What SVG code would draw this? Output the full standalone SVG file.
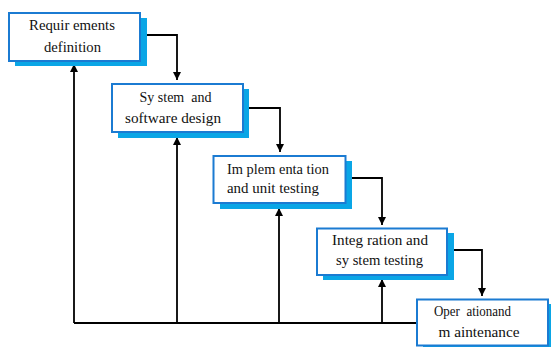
<svg xmlns="http://www.w3.org/2000/svg" width="551" height="347" viewBox="0 0 551 347">
  <defs>
    <marker id="arrow" viewBox="0 0 10 10" refX="10" refY="5" markerWidth="8" markerHeight="8" markerUnits="userSpaceOnUse" orient="auto">
      <path d="M0,0 L10,5 L0,10 z" fill="#000"/>
    </marker>
  </defs>
  <style>
    .shadow { fill: #0aa6e6; }
    .box { fill: #fff; stroke: #1b7bd2; stroke-width: 2; }
    .label { font-family: "Liberation Serif", "Times New Roman", serif; font-size: 15px; fill: #111; }
    .wire { fill: none; stroke: #000; stroke-width: 1.8; }
    .arrowed { marker-end: url(#arrow); }
  </style>
  <rect width="551" height="347" fill="#fff"/>

  <g id="connectors">
    <!-- forward flow between stages -->
    <path class="wire arrowed" d="M140,35 H177 V80"/>
    <path class="wire arrowed" d="M243,108 H280 V152"/>
    <path class="wire arrowed" d="M345,178 H382 V225"/>
    <path class="wire arrowed" d="M447,250 H482 V296"/>
    <!-- feedback rail -->
    <path class="wire" d="M417,323 H74"/>
    <path class="wire arrowed" d="M74,323 V64"/>
    <path class="wire arrowed" d="M177,323 V137"/>
    <path class="wire arrowed" d="M279,323 V208"/>
    <path class="wire arrowed" d="M382,323 V279"/>
  </g>

  <g id="requirements">
    <rect class="shadow" x="15" y="18" width="132" height="48"/>
    <rect class="box" x="9" y="13" width="131" height="48"/>
    <text class="label" x="29" y="30" textLength="86" lengthAdjust="spacingAndGlyphs" xml:space="preserve">Requir ements</text>
    <text class="label" x="44" y="51.5" textLength="57" lengthAdjust="spacingAndGlyphs">definition</text>
  </g>

  <g id="design">
    <rect class="shadow" x="118" y="89" width="131" height="49"/>
    <rect class="box" x="112" y="84" width="131" height="48"/>
    <text class="label" x="139.5" y="101.5" textLength="72" lengthAdjust="spacingAndGlyphs" xml:space="preserve">Sy stem  and</text>
    <text class="label" x="125" y="122.5" textLength="96" lengthAdjust="spacingAndGlyphs">software design</text>
  </g>

  <g id="implementation">
    <rect class="shadow" x="220" y="161" width="132" height="48"/>
    <rect class="box" x="213.5" y="156" width="132" height="47"/>
    <text class="label" x="227" y="173.5" textLength="102" lengthAdjust="spacingAndGlyphs" xml:space="preserve">Im plem enta tion</text>
    <text class="label" x="227" y="193" textLength="92" lengthAdjust="spacingAndGlyphs">and unit testing</text>
  </g>

  <g id="integration">
    <rect class="shadow" x="323" y="233" width="131" height="47"/>
    <rect class="box" x="317" y="228.5" width="130" height="46.5"/>
    <text class="label" x="332" y="244.5" textLength="96" lengthAdjust="spacingAndGlyphs" xml:space="preserve">Integ ration and</text>
    <text class="label" x="336" y="265" textLength="87" lengthAdjust="spacingAndGlyphs" xml:space="preserve">sy stem testing</text>
  </g>

  <g id="operation">
    <rect class="shadow" x="423" y="304" width="131" height="47"/>
    <rect class="box" x="417" y="299.5" width="131" height="46"/>
    <text class="label" x="434" y="316" textLength="77" lengthAdjust="spacingAndGlyphs" xml:space="preserve">Oper  ationand</text>
    <text class="label" x="438.5" y="337" textLength="81" lengthAdjust="spacingAndGlyphs" xml:space="preserve">m aintenance</text>
  </g>
</svg>
